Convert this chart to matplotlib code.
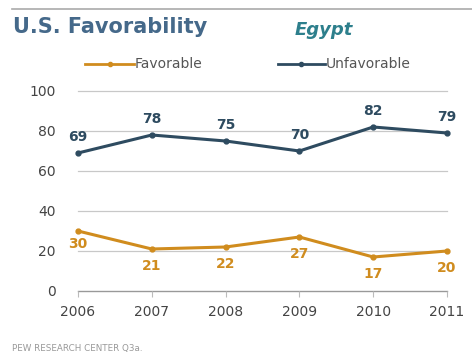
import matplotlib
matplotlib.use("Agg")
import matplotlib.pyplot as plt
from matplotlib.lines import Line2D

years = [2006, 2007, 2008, 2009, 2010, 2011]
favorable = [30, 21, 22, 27, 17, 20]
unfavorable = [69, 78, 75, 70, 82, 79]
y_ticks = [0, 20, 40, 60, 80, 100]

fav_color = "#d08c1e"
unf_color = "#2e4b60"
tick_color = "#444444"

fig = plt.figure(figsize=(4.72, 3.54), dpi=100)
W, H = 472, 354
ax = fig.add_axes([78 / W, 1 - 291 / H, (447 - 78) / W, (291 - 91) / H])

ax.plot(years, unfavorable, color=unf_color, lw=2.2, marker="o", ms=3.5)
ax.plot(years, favorable, color=fav_color, lw=2.2, marker="o", ms=3.5)

for x, v in zip(years, unfavorable):
    ax.annotate(str(v), (x, v), xytext=(0, 11.5), textcoords="offset points",
                ha="center", va="center", color=unf_color, fontsize=10,
                fontweight="bold")
for x, v in zip(years, favorable):
    off = -9.5 if x == 2006 else -12
    ax.annotate(str(v), (x, v), xytext=(0, off), textcoords="offset points",
                ha="center", va="center", color=fav_color, fontsize=10,
                fontweight="bold")

ax.set_xlim(2006, 2011)
ax.set_ylim(0, 100)
ax.set_yticks(y_ticks)
ax.set_xticks(years)
ax.set_yticklabels([str(t) for t in y_ticks], color=tick_color, fontsize=10)
ax.set_xticklabels([str(y) for y in years], color=tick_color, fontsize=10)
ax.tick_params(axis="y", length=0, pad=16)
ax.tick_params(axis="x", length=4, color="#bbbbbb", pad=6, direction="out")
for t in y_ticks[1:]:
    ax.axhline(t, color="#c8c8c8", lw=0.9, zorder=0)
ax.axhline(0, color="#999999", lw=1.0, zorder=0)
for s in ax.spines.values():
    s.set_visible(False)
ax.set_facecolor("none")
for l in ax.lines:
    l.set_clip_on(False)

# top rule
fig.add_artist(Line2D([12 / W, 1], [1 - 9 / H, 1 - 9 / H], color="#aaaaaa", lw=1.2))

fig.text(13 / W, 1 - 27 / H, "U.S. Favorability", fontsize=15, fontweight="bold",
         color="#45698a", va="center", ha="left")
fig.text(295 / W, 1 - 30 / H, "Egypt", fontsize=13, fontweight="bold", style="italic",
         color="#2d7f8c", va="center", ha="left")

# legend
ly = 1 - 64 / H
fig.add_artist(Line2D([85 / W, 134 / W], [ly, ly], color=fav_color, lw=2))
fig.add_artist(Line2D([110 / W], [ly], color=fav_color, marker="o", ms=3))
fig.text(135 / W, ly, "Favorable", fontsize=10, color="#555555", va="center", ha="left")
fig.add_artist(Line2D([278 / W, 325 / W], [ly, ly], color=unf_color, lw=2))
fig.add_artist(Line2D([301 / W], [ly], color=unf_color, marker="o", ms=3))
fig.text(326 / W, ly, "Unfavorable", fontsize=10, color="#555555", va="center", ha="left")

fig.text(12 / W, 1 - 348 / H, "PEW RESEARCH CENTER Q3a.", fontsize=6.3,
         color="#999999", va="center", ha="left")

fig.savefig("out.png", dpi=100)
